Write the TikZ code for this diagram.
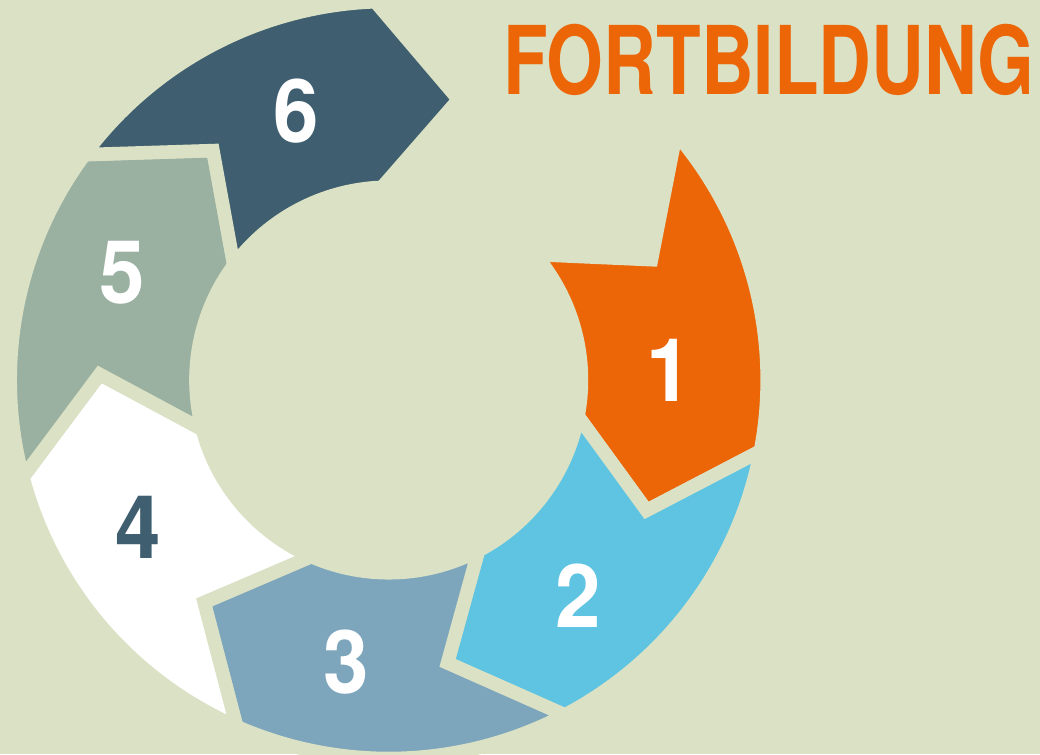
\documentclass[tikz,border=0pt]{standalone}
\usepackage{fontspec}
\newfontfamily\headfont{TeX Gyre Heros}[FakeStretch=0.77]
\newfontfamily\numfont{TeX Gyre Heros}[FakeStretch=0.93]

\definecolor{fbback}{HTML}{DBE1C4}
\definecolor{fborange}{HTML}{EC6608}
\definecolor{fbblue}{HTML}{5EC4E1}
\definecolor{fbsteel}{HTML}{7DA6BD}
\definecolor{fbsage}{HTML}{9AB0A1}
\definecolor{fbslate}{HTML}{3F5F70}

\tikzset{
  ringpart/.style={draw=fbback, line width=0.27cm, line join=miter},
  numlabel/.style={inner sep=0pt, text=white, font=\numfont\bfseries\fontsize{50}{56}\selectfont},
}

\begin{document}
\begin{tikzpicture}[x=0.02cm, y=0.02cm]
\useasboundingbox (-388.7,-374) rectangle (651.3,380);
\fill[fbback] (-388.7,-374) rectangle (651.3,380);
\filldraw[ringpart, fill=fborange] (40.6:378.5) arc[start angle=40.6, end angle=-10.83, radius=7.57cm] -- (-26.83:289) -- (-10.83:192.8) arc[start angle=-10.83, end angle=40.6, radius=3.856cm] -- (24.6:289) -- cycle;
\filldraw[ringpart, fill=fbblue] (-10.83:378.5) arc[start angle=-10.83, end angle=-62.26, radius=7.57cm] -- (-78.26:289) -- (-62.26:192.8) arc[start angle=-62.26, end angle=-10.83, radius=3.856cm] -- (-26.83:289) -- cycle;
\filldraw[ringpart, fill=fbsteel] (-62.26:378.5) arc[start angle=-62.26, end angle=-113.69, radius=7.57cm] -- (-129.69:289) -- (-113.69:192.8) arc[start angle=-113.69, end angle=-62.26, radius=3.856cm] -- (-78.26:289) -- cycle;
\filldraw[ringpart, fill=white] (-113.69:378.5) arc[start angle=-113.69, end angle=-165.12, radius=7.57cm] -- (-181.12:289) -- (-165.12:192.8) arc[start angle=-165.12, end angle=-113.69, radius=3.856cm] -- (-129.69:289) -- cycle;
\filldraw[ringpart, fill=fbsage] (-165.12:378.5) arc[start angle=-165.12, end angle=-216.55, radius=7.57cm] -- (-232.55:289) -- (-216.55:192.8) arc[start angle=-216.55, end angle=-165.12, radius=3.856cm] -- (-181.12:289) -- cycle;
\filldraw[ringpart, fill=fbslate] (-216.55:378.5) arc[start angle=-216.55, end angle=-267.98, radius=7.57cm] -- (-283.98:289) -- (-267.98:192.8) arc[start angle=-267.98, end angle=-216.55, radius=3.856cm] -- (-232.55:289) -- cycle;
\node[numlabel] (num1) at (2.0:280.2) {1};
\node[numlabel] (num2) at (-48.7:287) {2};
\node[numlabel] (num3) at (261.5:284.8) {3};
\node[numlabel, text=fbslate] (num4) at (210.4:290.6) {4};
\node[numlabel] (num5) at (158.0:287) {5};
\node[numlabel] (num6) at (108.9:284.5) {6};
\node[inner sep=0pt, text=fborange, font=\headfont\bfseries\fontsize{54}{60}\selectfont] (title) at (380.3,320) {FORTBILDUNG};
\end{tikzpicture}
\end{document}
